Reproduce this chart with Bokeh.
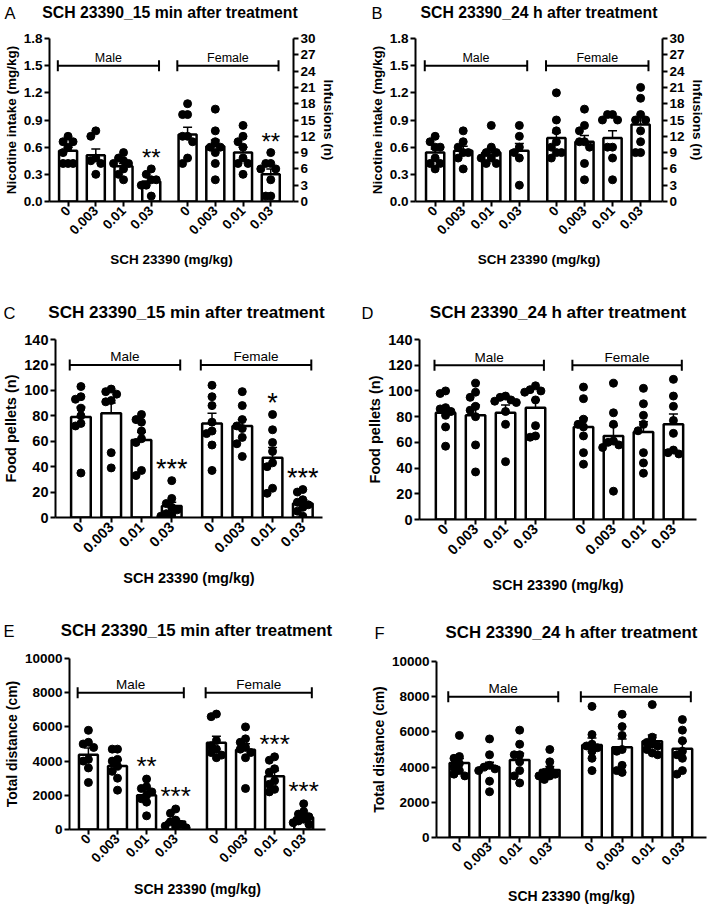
import math
from bokeh.plotting import figure
from bokeh.models import (Range1d, LinearAxis, FixedTicker, PrintfTickFormatter,
                          Whisker, ColumnDataSource, TeeHead)
from bokeh.layouts import column, row
from bokeh.embed import file_html
from bokeh.resources import INLINE
from bokeh.core.properties import value

FONT = "Liberation Sans"

doses = ["0", "0.003", "0.01", "0.03"]
sexes = ["Male", "Female"]
x_title = "SCH 23390 (mg/kg)"
title_15 = "SCH 23390_15 min after treatment"
title_24 = "SCH 23390_24 h after treatment"

# ---- Panel A: nicotine intake, 15 min ----
a_mean = [0.56, 0.51, 0.39, 0.22, 0.74, 0.61, 0.54, 0.30]
a_sem = [0.04, 0.07, 0.03, 0.04, 0.08, 0.07, 0.06, 0.06]
a_points = [
    [0.72, 0.66, 0.66, 0.60, 0.54, 0.42, 0.42, 0.42],
    [0.78, 0.72, 0.48, 0.45, 0.42, 0.30],
    [0.54, 0.48, 0.45, 0.42, 0.42, 0.36, 0.30, 0.24],
    [0.36, 0.30, 0.24, 0.24, 0.18, 0.18, 0.06],
    [1.08, 0.96, 0.96, 0.72, 0.72, 0.66, 0.48, 0.42],
    [1.02, 0.78, 0.66, 0.60, 0.60, 0.54, 0.42, 0.24],
    [0.84, 0.72, 0.66, 0.60, 0.48, 0.42, 0.42, 0.30],
    [0.54, 0.42, 0.42, 0.36, 0.36, 0.24, 0.06, 0.06],
]
a_stars = ["", "", "", "**", "", "", "", "**"]

# ---- Panel B: nicotine intake, 24 h ----
b_mean = [0.54, 0.56, 0.54, 0.56, 0.70, 0.66, 0.70, 0.85]
b_sem = [0.04, 0.05, 0.05, 0.08, 0.06, 0.07, 0.08, 0.08]
b_points = [
    [0.72, 0.66, 0.60, 0.60, 0.48, 0.42, 0.42, 0.36],
    [0.78, 0.66, 0.60, 0.54, 0.54, 0.48, 0.36],
    [0.84, 0.60, 0.54, 0.54, 0.48, 0.48, 0.42, 0.42],
    [0.84, 0.72, 0.60, 0.54, 0.48, 0.18],
    [1.20, 0.90, 0.78, 0.66, 0.60, 0.54, 0.54, 0.48],
    [1.02, 0.84, 0.78, 0.66, 0.66, 0.60, 0.42, 0.24],
    [0.96, 0.96, 0.90, 0.90, 0.60, 0.60, 0.48, 0.24],
    [1.26, 1.14, 0.96, 0.90, 0.90, 0.78, 0.66, 0.54, 0.54],
]
b_stars = ["", "", "", "", "", "", "", ""]

# ---- Panel C: food pellets, 15 min ----
c_mean = [79, 82, 61, 9, 74, 72, 47, 11]
c_sem = [8, 8, 6, 3, 8, 5, 8, 3]
c_points = [
    [103, 95, 93, 86, 80, 74, 72, 35],
    [101, 99, 97, 92, 91, 51, 39],
    [81, 77, 75, 68, 62, 59, 37, 33],
    [29, 15, 11, 8, 6, 3, 2, 1],
    [104, 95, 88, 75, 68, 66, 57, 37],
    [99, 88, 77, 72, 70, 63, 58, 48],
    [81, 69, 59, 52, 43, 40, 23, 19],
    [22, 20, 14, 12, 10, 8, 5, 1],
]
c_stars = ["", "", "", "***", "", "", "*", "***"]

# ---- Panel D: food pellets, 24 h ----
d_mean = [83, 81, 83, 87, 72, 65, 68, 74]
d_sem = [4, 8, 6, 6, 7, 8, 8, 8]
d_points = [
    [100, 98, 87, 86, 84, 81, 72, 57],
    [106, 99, 95, 88, 85, 80, 58, 37],
    [96, 95, 93, 92, 91, 84, 74, 45],
    [104, 101, 100, 99, 93, 73, 65, 64],
    [103, 94, 78, 74, 72, 65, 52, 43],
    [106, 83, 74, 61, 60, 58, 56, 22],
    [102, 90, 81, 74, 69, 52, 44, 36],
    [109, 96, 88, 77, 67, 54, 52, 51],
]
d_stars = ["", "", "", "", "", "", "", ""]

# ---- Panel E: total distance, 15 min ----
e_mean = [4370, 3720, 2000, 470, 5080, 4660, 3120, 700]
e_sem = [390, 350, 230, 130, 380, 350, 320, 150]
e_points = [
    [5800, 5100, 5000, 4800, 4100, 4000, 3600, 2750],
    [4700, 4700, 4100, 4000, 3700, 3400, 3000, 2300],
    [2950, 2500, 2400, 2200, 2000, 1800, 1600, 800],
    [1200, 950, 550, 450, 300, 200, 150, 100],
    [6750, 6600, 5200, 4900, 4700, 4500, 4350, 4200],
    [6000, 5300, 5100, 4800, 4700, 4500, 4200, 2400],
    [4250, 4050, 3550, 3350, 2850, 2650, 2350, 2200],
    [1500, 1050, 900, 750, 600, 500, 400, 300],
]
e_stars = ["", "", "**", "***", "", "", "***", "***"]

# ---- Panel F: total distance, 24 h ----
f_mean = [4240, 4000, 4410, 3840, 5260, 5130, 5470, 5040]
f_sem = [250, 280, 380, 190, 400, 470, 360, 420]
f_points = [
    [5800, 4600, 4500, 4200, 4000, 3800, 3600, 3500],
    [5600, 4700, 4100, 4000, 3900, 3800, 3200, 2600],
    [6100, 5300, 4700, 4700, 4300, 3800, 3500, 3100],
    [5000, 4300, 3900, 3700, 3600, 3500, 3500, 3300],
    [7450, 5850, 5300, 5200, 5100, 4900, 4500, 3800],
    [7000, 6300, 5800, 5000, 4900, 4100, 3800, 3700],
    [7550, 5700, 5400, 5300, 5200, 5000, 4800, 4700],
    [6700, 6100, 5500, 4900, 4700, 4500, 3800, 3600],
]
f_stars = ["", "", "", "", "", "", "", ""]

# y-axis definitions
nic_label = "Nicotine intake (mg/kg)"
inf_label = "Infusions (n)"
food_label = "Food pellets (n)"
dist_label = "Total distance (cm)"
nic_max, nic_step = 1.8, 0.3
inf_max, inf_step = 30, 3
food_max, food_step = 140, 20
dist_max, dist_step = 10000, 2000
nic_bracket, food_bracket, dist_bracket = 1.5, 120, 8000

ROW1 = dict(title=15.8, tick=13.5, label=13.5, group=12.5, letter=16.5, star=24, star_off=-11, xls=10)
ROW2 = dict(title=17.1, tick=14.5, label=14.5, group=13.5, letter=16.5, star=27, star_off=-12, xls=10)
ROW3 = dict(title=16.8, tick=13.5, label=14, group=13.5, letter=16.5, star=26, star_off=-13, xls=11)


def swarm_offsets(vals, y_top, step=0.18):
    offs = [0.0] * len(vals)
    placed = []
    order = sorted(range(len(vals)), key=lambda i: -vals[i])
    for i in order:
        for k in (0, -1, 1, -2, 2):
            o = k * step
            ok = all(not (abs(vals[i] - vals[j]) < 0.04 * y_top and abs(o - offs[j]) < 0.15)
                     for j in placed)
            if ok:
                offs[i] = o
                break
        placed.append(i)
    return offs


def style_axis(ax, fs):
    ax.axis_line_width = 2
    ax.axis_line_color = "black"
    ax.major_tick_line_width = 2
    ax.major_tick_line_color = "black"
    ax.major_tick_out = 5
    ax.major_tick_in = 0
    ax.minor_tick_line_color = None
    ax.major_label_text_font = FONT
    ax.major_label_text_font_style = "bold"
    ax.major_label_text_font_size = f"{fs['tick']}px"
    ax.major_label_text_color = "black"
    ax.axis_label_text_font = FONT
    ax.axis_label_text_font_style = "bold"
    ax.axis_label_text_font_size = f"{fs['label']}px"
    ax.axis_label_text_color = "black"
    ax.major_label_standoff = 2
    ax.axis_label_standoff = 2


def make_header(letter, title, W, Hh, geom, cy, letter_x, fs):
    bl, br = geom[2], geom[3]
    h = figure(width=W, height=Hh, x_range=Range1d(0, W), y_range=Range1d(0, Hh),
               output_backend="svg", toolbar_location=None,
               x_axis_location=None, y_axis_location=None, min_border=0)
    h.outline_line_color = None
    h.background_fill_color = "white"
    h.border_fill_color = "white"
    h.xgrid.visible = False
    h.ygrid.visible = False
    cx = (bl + (W - br)) / 2
    h.text(x=[cx], y=[cy], text=[title], text_font=value(FONT), text_font_style="bold",
           text_font_size=f"{fs['title']}px", text_align="center", text_baseline="middle",
           text_color="black")
    h.text(x=[letter_x], y=[cy], text=[letter], text_font=value(FONT),
           text_font_size=f"{fs['letter']}px", text_align="left", text_baseline="middle",
           text_color="black")
    return h


def make_panel(ylabel, means, sems, pts, stars, ytop, ystep, yfmt,
               bracket_y, gap, xr, fs, geom, right=None, xls=None):
    W, H, bl, br, bt, bb = geom
    xs = [float(i) for i in range(4)] + [round(3 + gap + i, 3) for i in range(4)]
    p = figure(width=W, height=H, x_range=Range1d(*xr), y_range=Range1d(0, ytop),
               output_backend="svg", toolbar_location=None,
               min_border_left=bl, min_border_right=br, min_border_top=bt, min_border_bottom=bb)
    try:
        p.frame_align = False
    except Exception:
        pass
    p.outline_line_color = None
    p.background_fill_color = "white"
    p.border_fill_color = "white"
    p.xgrid.visible = False
    p.ygrid.visible = False

    style_axis(p.xaxis[0], fs)
    p.xaxis.ticker = FixedTicker(ticks=xs)
    p.xaxis.major_label_overrides = {x: lab for x, lab in zip(xs, doses * 2)}
    p.xaxis.major_label_orientation = math.pi / 4
    p.xaxis.axis_label = x_title
    p.xaxis.axis_label_standoff = fs["xls"] if xls is None else xls

    style_axis(p.yaxis[0], fs)
    n = int(round(ytop / ystep))
    p.yaxis.ticker = FixedTicker(ticks=[round(i * ystep, 6) for i in range(n + 1)])
    p.yaxis.formatter = PrintfTickFormatter(format=yfmt)
    p.yaxis.axis_label = ylabel

    if right is not None:
        rmax, rstep, rlabel = right
        p.extra_y_ranges = {"inf": Range1d(0, rmax)}
        ax = LinearAxis(y_range_name="inf", axis_label=rlabel,
                        ticker=FixedTicker(ticks=list(range(0, rmax + 1, rstep))))
        style_axis(ax, fs)
        p.add_layout(ax, "right")

    # bars
    p.vbar(x=xs, top=means, bottom=0, width=0.65, fill_color="white",
           line_color="black", line_width=2.5)

    # individual points
    px, py = [], []
    for xc, vals in zip(xs, pts):
        offs = swarm_offsets(vals, ytop)
        px += [xc + o for o in offs]
        py += list(vals)
    p.scatter(px, py, size=8, color="black")

    # SEM error bars
    src = ColumnDataSource(dict(x=xs, upper=[m + s for m, s in zip(means, sems)],
                                lower=[m - s for m, s in zip(means, sems)]))
    w = Whisker(source=src, base="x", upper="upper", lower="lower",
                line_color="black", line_width=1.5,
                upper_head=TeeHead(size=9, line_width=1.5, line_color="black"),
                lower_head=TeeHead(size=9, line_width=1.5, line_color="black"))
    p.add_layout(w)

    # significance stars
    sx = [x for x, s in zip(xs, stars) if s]
    sy = [max(v) for v, s in zip(pts, stars) if s]
    st = [s for s in stars if s]
    if st:
        p.text(x=sx, y=sy, text=st, text_font=value(FONT), text_font_size=f"{fs['star']}px",
               text_align="center", text_baseline="middle", y_offset=fs['star_off'],
               text_color="black")

    # group brackets
    for g, sex in enumerate(sexes):
        x0 = xs[4 * g] - 0.37
        x1 = xs[4 * g + 3] + 0.28
        p.segment(x0=[x0], y0=[bracket_y], x1=[x1], y1=[bracket_y], line_color="black", line_width=2)
        p.scatter([x0, x1], [bracket_y, bracket_y], marker="dash", angle=math.pi / 2, size=11,
                  line_color="black", line_width=2)
        p.text(x=[(x0 + x1) / 2], y=[bracket_y], text=[sex], text_font=value(FONT),
               text_font_size=f"{fs['group']}px", text_align="center",
               text_baseline="alphabetic", y_offset=-8, text_color="black")
    return p


gA = (354, 276, 46, 61, 14, 99)
gB = (354, 276, 61, 46, 14, 99)
gC = (354, 276, 50, 32, 15, 83)
gD = (354, 276, 65, 12, 15, 81)
gE = (354, 266, 67, 29, 16, 79)
gF = (354, 266, 82, 2, 19, 71)

pA = make_panel(nic_label, a_mean, a_sem, a_points, a_stars, nic_max, nic_step, "%.1f",
                nic_bracket, 1.31, (-0.67, 8.13), ROW1, gA, right=(inf_max, inf_step, inf_label))
pB = make_panel(nic_label, b_mean, b_sem, b_points, b_stars, nic_max, nic_step, "%.1f",
                nic_bracket, 1.32, (-0.70, 8.10), ROW1, gB, right=(inf_max, inf_step, inf_label))
pC = make_panel(food_label, c_mean, c_sem, c_points, c_stars, food_max, food_step, "%d",
                food_bracket, 1.33, (-0.84, 7.98), ROW2, gC)
pD = make_panel(food_label, d_mean, d_sem, d_points, d_stars, food_max, food_step, "%d",
                food_bracket, 1.6, (-0.87, 8.37), ROW2, gD, xls=15)
pE = make_panel(dist_label, e_mean, e_sem, e_points, e_stars, dist_max, dist_step, "%d",
                dist_bracket, 1.4, (-0.65, 8.15), ROW3, gE)
pF = make_panel(dist_label, f_mean, f_sem, f_points, f_stars, dist_max, dist_step, "%d",
                dist_bracket, 1.4, (-0.76, 8.20), ROW3, gF, xls=10)

hA = make_header("A", title_15, 354, 24, gA, 12, 4, ROW1)
hB = make_header("B", title_24, 354, 24, gB, 12, 17, ROW1)
hC = make_header("C", title_15, 354, 24, gC, 12, 3, ROW2)
hD = make_header("D", title_24, 354, 24, gD, 12, 7, ROW2)
hE = make_header("E", title_15, 354, 42, gE, 12, 3, ROW3)
hF = make_header("F", title_24, 354, 42, gF, 10, 20, ROW3)

layout = column(row(hA, hB), row(pA, pB), row(hC, hD), row(pC, pD), row(hE, hF), row(pE, pF))

open("out.html", "w").write(file_html(layout, INLINE))
